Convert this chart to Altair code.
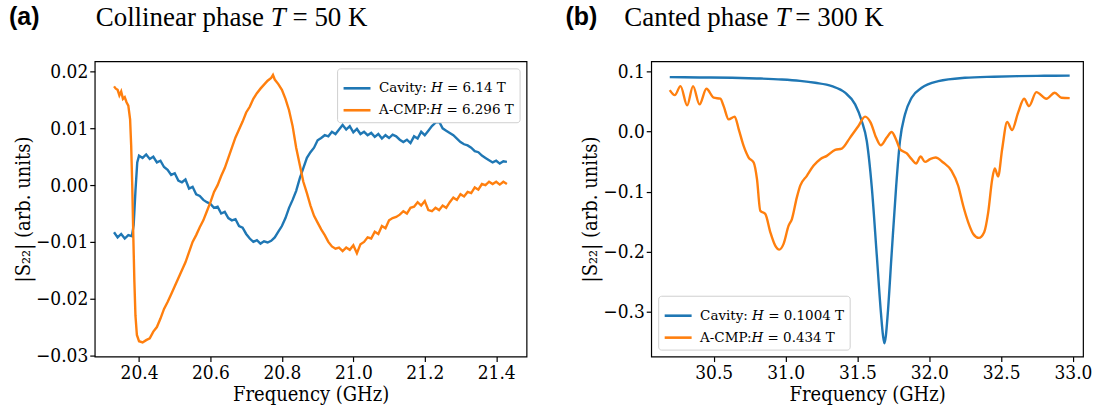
import altair as alt
import pandas as pd

# ---------------- Panel (a): Collinear phase, T = 50 K ----------------
a_cav_freq = [20.33, 20.34, 20.35, 20.36, 20.37, 20.38, 20.385, 20.39, 20.395, 20.40, 20.41, 20.42, 20.43,
              20.44, 20.45, 20.46, 20.47, 20.48, 20.49, 20.50, 20.51, 20.52, 20.53, 20.54, 20.55, 20.56,
              20.57, 20.58, 20.59, 20.60, 20.61, 20.62, 20.63, 20.64, 20.65, 20.66, 20.67, 20.68, 20.69,
              20.70, 20.71, 20.72, 20.73, 20.74, 20.75, 20.76, 20.77, 20.78, 20.79, 20.80, 20.81, 20.82,
              20.83, 20.84, 20.85, 20.86, 20.87, 20.88, 20.89, 20.90, 20.91, 20.92, 20.93, 20.94, 20.95,
              20.96, 20.97, 20.98, 20.99, 21.00, 21.01, 21.02, 21.03, 21.04, 21.05, 21.06, 21.07, 21.08,
              21.09, 21.10, 21.11, 21.12, 21.13, 21.14, 21.15, 21.16, 21.17, 21.18, 21.19, 21.20, 21.21,
              21.22, 21.23, 21.24, 21.25, 21.26, 21.27, 21.28, 21.29, 21.30, 21.31, 21.32, 21.33, 21.34,
              21.35, 21.36, 21.37, 21.38, 21.39, 21.40, 21.41, 21.42, 21.43]
a_cav_val = [-0.0083, -0.0092, -0.0086, -0.0094, -0.0088, -0.0090, -0.0070, -0.0010, 0.0040, 0.0052, 0.0048,
             0.0054, 0.0046, 0.0050, 0.0040, 0.0043, 0.0032, 0.0027, 0.0018, 0.0021, 0.0008, 0.0005, 0.0010,
             -0.0006, -0.0003, -0.0016, -0.0019, -0.0026, -0.0030, -0.0033, -0.0040, -0.0038, -0.0050, -0.0047,
             -0.0058, -0.0062, -0.0060, -0.0072, -0.0075, -0.0086, -0.0094, -0.0100, -0.0097, -0.0103, -0.0099,
             -0.0101, -0.0098, -0.0092, -0.0082, -0.0072, -0.0058, -0.0040, -0.0026, -0.0010, 0.0012, 0.0030,
             0.0048, 0.0058, 0.0066, 0.0079, 0.0083, 0.0088, 0.0086, 0.0094, 0.0090, 0.0098, 0.0106, 0.0098,
             0.0104, 0.0093, 0.0099, 0.0090, 0.0094, 0.0088, 0.0092, 0.0085, 0.0090, 0.0082, 0.0088, 0.0083,
             0.0089, 0.0086, 0.0080, 0.0076, 0.0080, 0.0074, 0.0086, 0.0082, 0.0094, 0.0088, 0.0096, 0.0104,
             0.0110, 0.0112, 0.0100, 0.0096, 0.0092, 0.0088, 0.0082, 0.0076, 0.0072, 0.0070, 0.0066, 0.0060,
             0.0058, 0.0052, 0.0048, 0.0044, 0.0040, 0.0043, 0.0038, 0.0042, 0.0041]

a_acmp_freq = [20.33, 20.335, 20.34, 20.345, 20.35, 20.355, 20.36, 20.365, 20.37, 20.375, 20.378, 20.381,
               20.384, 20.387, 20.39, 20.394, 20.40, 20.41, 20.42, 20.43, 20.44, 20.45, 20.46, 20.47, 20.48,
               20.49, 20.50, 20.51, 20.52, 20.53, 20.54, 20.55, 20.56, 20.57, 20.58, 20.59, 20.60, 20.61,
               20.62, 20.63, 20.64, 20.65, 20.66, 20.67, 20.68, 20.69, 20.70, 20.71, 20.72, 20.73, 20.74,
               20.75, 20.76, 20.77, 20.775, 20.78, 20.79, 20.80, 20.81, 20.82, 20.83, 20.84, 20.85, 20.86,
               20.87, 20.88, 20.89, 20.90, 20.91, 20.92, 20.93, 20.94, 20.95, 20.96, 20.97, 20.98, 20.99,
               21.00, 21.01, 21.02, 21.03, 21.04, 21.05, 21.06, 21.07, 21.08, 21.09, 21.10, 21.11, 21.12,
               21.13, 21.14, 21.15, 21.16, 21.17, 21.18, 21.19, 21.20, 21.21, 21.22, 21.23, 21.24, 21.25,
               21.26, 21.27, 21.28, 21.29, 21.30, 21.31, 21.32, 21.33, 21.34, 21.35, 21.36, 21.37, 21.38,
               21.39, 21.40, 21.41, 21.42, 21.43]
a_acmp_val = [0.0174, 0.0170, 0.0168, 0.0158, 0.0165, 0.0152, 0.0155, 0.0146, 0.0140, 0.0116, 0.0070, 0.0000,
              -0.0090, -0.0170, -0.0230, -0.0264, -0.0275, -0.0277, -0.0273, -0.0270, -0.0258, -0.0250,
              -0.0235, -0.0218, -0.0206, -0.0192, -0.0178, -0.0164, -0.0150, -0.0136, -0.0118, -0.0100,
              -0.0088, -0.0074, -0.0062, -0.0046, -0.0030, -0.0012, 0.0000, 0.0016, 0.0030, 0.0048, 0.0066,
              0.0084, 0.0098, 0.0112, 0.0128, 0.0138, 0.0152, 0.0162, 0.0170, 0.0177, 0.0184, 0.0189, 0.0194,
              0.0186, 0.0178, 0.0168, 0.0152, 0.0132, 0.0104, 0.0066, 0.0036, 0.0006, -0.0014, -0.0036,
              -0.0054, -0.0066, -0.0078, -0.0088, -0.0100, -0.0108, -0.0112, -0.0110, -0.0116, -0.0110,
              -0.0114, -0.0106, -0.0120, -0.0104, -0.0100, -0.0092, -0.0094, -0.0082, -0.0086, -0.0072,
              -0.0076, -0.0062, -0.0058, -0.0056, -0.0052, -0.0046, -0.0050, -0.0040, -0.0038, -0.0030,
              -0.0036, -0.0028, -0.0044, -0.0046, -0.0040, -0.0044, -0.0036, -0.0040, -0.0030, -0.0022,
              -0.0026, -0.0016, -0.0020, -0.0012, -0.0014, -0.0004, -0.0008, 0.0002, 0.0000, 0.0006, 0.0002,
              0.0006, 0.0001, 0.0006, 0.0002]

# ---------------- Panel (b): Canted phase, T = 300 K ----------------
b_cav_freq = [30.194, 30.40, 30.627, 30.80, 30.974, 31.10, 31.206, 31.322, 31.414, 31.484, 31.53, 31.565,
              31.60, 31.634, 31.664, 31.678, 31.688, 31.698, 31.711, 31.738, 31.769, 31.796, 31.831, 31.877,
              31.947, 32.063, 32.248, 32.45, 32.618, 32.80, 32.977]
b_cav_val = [0.0907, 0.0902, 0.0897, 0.0886, 0.0869, 0.0846, 0.0814, 0.0758, 0.0648, 0.0453, 0.0176, -0.0156,
             -0.093, -0.204, -0.3035, -0.340, -0.353, -0.340, -0.3035, -0.204, -0.093, -0.0156, 0.0287, 0.0565,
             0.073, 0.0841, 0.0897, 0.0915, 0.0924, 0.0930, 0.0932]

b_acmp_freq = [30.194, 30.229, 30.269, 30.315, 30.356, 30.401, 30.449, 30.50, 30.546, 30.569, 30.604, 30.646,
               30.674, 30.708, 30.743, 30.778, 30.801, 30.824, 30.859, 30.894, 30.928, 30.956, 30.986, 31.021,
               31.044, 31.078, 31.102, 31.148, 31.194, 31.241, 31.287, 31.345, 31.391, 31.449, 31.507, 31.553,
               31.592, 31.63, 31.662, 31.704, 31.738, 31.773, 31.796, 31.842, 31.877, 31.908, 31.94, 31.97,
               32.005, 32.044, 32.097, 32.155, 32.201, 32.236, 32.271, 32.306, 32.345, 32.382, 32.41, 32.438,
               32.456, 32.479, 32.507, 32.542, 32.576, 32.618, 32.66, 32.694, 32.745, 32.815, 32.873, 32.919,
               32.977]
b_acmp_val = [0.0691, 0.0608, 0.0758, 0.0437, 0.0758, 0.0453, 0.0714, 0.0565, 0.0548, 0.0425, 0.0204, 0.0249,
              0.0038, -0.0239, -0.0432, -0.0515, -0.0792, -0.1319, -0.1374, -0.1678, -0.19, -0.1967, -0.1872,
              -0.1568, -0.1457, -0.110, -0.090, -0.0737, -0.0571, -0.046, -0.0405, -0.0305, -0.0283, -0.01,
              0.0093, 0.0249, 0.015, -0.01, -0.0228, -0.01, -0.0006, -0.0156, -0.0294, -0.036, -0.046, -0.0532,
              -0.0416, -0.0505, -0.046, -0.0432, -0.0515, -0.0654, -0.0903, -0.1236, -0.1512, -0.1706, -0.1772,
              -0.1678, -0.1346, -0.0792, -0.0615, -0.0748, -0.0294, 0.016, 0.0027, 0.0316, 0.0548, 0.0425,
              0.0658, 0.0548, 0.0648, 0.0565, 0.0558]

a_labels = ["Cavity: 𝐻 = 6.14 T", "A-CMP:𝐻 = 6.296 T"]
b_labels = ["Cavity: 𝐻 = 0.1004 T", "A-CMP:𝐻 = 0.434 T"]
colors = ["#1f77b4", "#ff7f0e"]

a_xticks = [20.4, 20.6, 20.8, 21.0, 21.2, 21.4]
a_yticks = [0.02, 0.01, 0.0, -0.01, -0.02, -0.03]
b_xticks = [30.5, 31.0, 31.5, 32.0, 32.5, 33.0]
b_yticks = [0.1, 0.0, -0.1, -0.2, -0.3]

AXFONT = "DejaVu Serif Condensed, DejaVu Serif"
W, H = 433, 296


def make_df(f1, v1, f2, v2, labels):
    return pd.DataFrame({
        "freq": list(f1) + list(f2),
        "val": list(v1) + list(v2),
        "series": [labels[0]] * len(f1) + [labels[1]] * len(f2),
    })


def text_piece(txt, x, y, font, size, weight="normal", style="normal"):
    return alt.Chart(pd.DataFrame({"t": [txt]})).mark_text(
        align="left", baseline="alphabetic", font=font, fontSize=size,
        fontWeight=weight, fontStyle=style, color="black"
    ).encode(text="t:N", x=alt.value(x), y=alt.value(y))


def panel(df, labels, xdom, ydom, xticks, yticks, yfmt, lorient, interp,
          letter, pre, post, pre_x, t_x, post_x):
    line = alt.Chart(df).mark_line(strokeWidth=2.4, interpolate=interp, clip=True).encode(
        x=alt.X("freq:Q", scale=alt.Scale(domain=xdom, nice=False, zero=False),
                axis=alt.Axis(values=xticks, format=".1f", title="Frequency (GHz)")),
        y=alt.Y("val:Q", scale=alt.Scale(domain=ydom, nice=False, zero=False),
                axis=alt.Axis(values=yticks, format=yfmt, title="|S₂₂| (arb. units)")),
        color=alt.Color("series:N", sort=labels,
                        scale=alt.Scale(domain=labels, range=colors),
                        legend=alt.Legend(orient=lorient, offset=7, title=None,
                                          fillColor="white", strokeColor="#d0d0d0",
                                          cornerRadius=3, padding=5,
                                          symbolType="stroke", symbolSize=729,
                                          symbolStrokeWidth=2.6,
                                          labelFont="DejaVu Serif", labelFontSize=13.5,
                                          labelOffset=7, rowPadding=-8, labelLimit=400)),
    )
    layers = [
        line,
        text_piece(letter, -86, -36, "Liberation Sans", 25, weight="bold"),
        text_piece(pre, pre_x, -35, "Liberation Serif", 27),
        text_piece("T", t_x, -35, "Liberation Serif", 27, style="italic"),
        text_piece(post, post_x, -35, "Liberation Serif", 27),
    ]
    return alt.layer(*layers).properties(width=W, height=H)


pa = panel(make_df(a_cav_freq, a_cav_val, a_acmp_freq, a_acmp_val, a_labels), a_labels,
           [20.276, 21.485], [-0.0302, 0.0218], a_xticks, a_yticks, ".2f", "top-right", "linear",
           "(a)", "Collinear phase", "= 50 K", 1, 176.5, 198.3)
pb = panel(make_df(b_cav_freq, b_cav_val, b_acmp_freq, b_acmp_val, b_labels), b_labels,
           [30.065, 33.07], [-0.375, 0.117], b_xticks, b_yticks, ".1f", "bottom-left", "monotone",
           "(b)", "Canted phase", "= 300 K", -27, 124.5, 144.5)

chart = alt.hconcat(pa, pb, spacing=125, bounds="flush").resolve_scale(
    color="independent"
).properties(
    padding={"left": 8, "top": 3, "right": 6, "bottom": 3},
    background="white"
).configure_view(
    stroke="black", strokeWidth=1.2
).configure_axis(
    grid=False, domain=False, ticks=True, tickSize=5, tickWidth=1.2, tickColor="black",
    labelColor="black", labelFont=AXFONT, labelFontSize=19, labelPadding=2,
    titleColor="black", titleFont=AXFONT, titleFontSize=20, titleFontWeight="normal",
    titlePadding=2
)

chart.save("out.html", embed_options={"renderer": "svg", "actions": False})
